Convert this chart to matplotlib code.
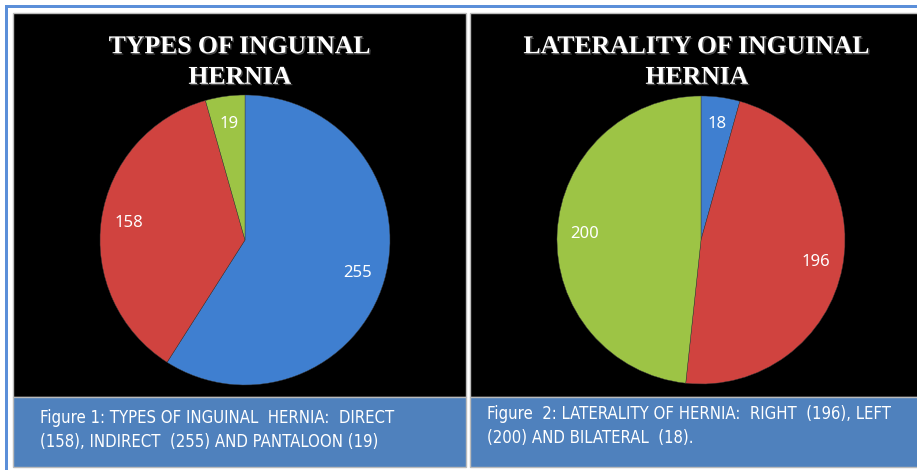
import matplotlib
matplotlib.use("Agg")
import matplotlib.pyplot as plt
import matplotlib.patheffects as pe
from matplotlib.patches import Rectangle

# data
types_labels = ["Indirect", "Direct", "Pantaloon"]
types_values = [255, 158, 19]
side_labels = ["Bilateral", "Right", "Left"]
side_values = [18, 196, 200]

slice_colors = ["#3F7FD0", "#D0433F", "#9DC445"]

W, H = 917, 470
fig = plt.figure(figsize=(W / 100, H / 100), dpi=100)
fig.patch.set_facecolor("white")


def px_axes(x, y, w, h):
    # axes placed in pixel coords (top-left origin)
    return fig.add_axes([x / W, 1 - (y + h) / H, w / W, h / H])


# background frame and panels
bg = px_axes(0, 0, W, H)
bg.set_xlim(0, W)
bg.set_ylim(H, 0)
bg.axis("off")
bg.add_patch(Rectangle((5, 5), W, 2.5, color="#5B8FD9", lw=0))
bg.add_patch(Rectangle((5, 5), 2.5, H, color="#5B8FD9", lw=0))
for x0, x1 in [(13, 466), (470, 918)]:
    bg.add_patch(Rectangle((x0, 13), x1 - x0, 384, facecolor="black",
                           edgecolor="#BBBBBB", lw=1))
    bg.add_patch(Rectangle((x0, 397), x1 - x0, 70, facecolor="#4F81BD",
                           edgecolor="#BBBBBB", lw=1))


def draw_pie(cx, cy, r, values):
    ax = px_axes(cx - r, cy - r, 2 * r, 2 * r)
    wedges, _, autotexts = ax.pie(
        values, colors=slice_colors, startangle=90, counterclock=False,
        autopct=lambda p: "%d" % round(p * sum(values) / 100),
        pctdistance=0.81, radius=1,
        wedgeprops=dict(edgecolor="#3a3a3a", linewidth=0.3),
        textprops=dict(color="white", fontsize=12, family="Noto Sans"))
    ax.set_xlim(-1, 1)
    ax.set_ylim(-1, 1)
    ax.set_aspect("equal")
    ax.axis("off")
    return ax


draw_pie(245, 240, 145, types_values)
draw_pie(701, 240, 144, side_values)

title_kw = dict(color="white", fontsize=18.5, fontweight="bold", ha="center",
                va="center", family="Liberation Serif", linespacing=1.42,
                path_effects=[pe.withSimplePatchShadow(offset=(1, -1),
                                                       shadow_rgbFace="#666666",
                                                       alpha=0.7)])
fig.text(240 / W, 1 - 62 / H, "TYPES OF INGUINAL\nHERNIA", **title_kw)
fig.text(697 / W, 1 - 62 / H, "LATERALITY OF INGUINAL\nHERNIA", **title_kw)

cap_kw = dict(color="white", fontsize=12, ha="left", va="center",
              family="DejaVu Sans", stretch="condensed", linespacing=1.45)
fig.text(40 / W, 1 - 430 / H,
         "Figure 1: TYPES OF INGUINAL  HERNIA:  DIRECT\n"
         "(158), INDIRECT  (255) AND PANTALOON (19)", **cap_kw)
fig.text(487 / W, 1 - 426 / H,
         "Figure  2: LATERALITY OF HERNIA:  RIGHT  (196), LEFT\n"
         "(200) AND BILATERAL  (18).", **cap_kw)

fig.savefig("out.png", dpi=100, facecolor="white")
